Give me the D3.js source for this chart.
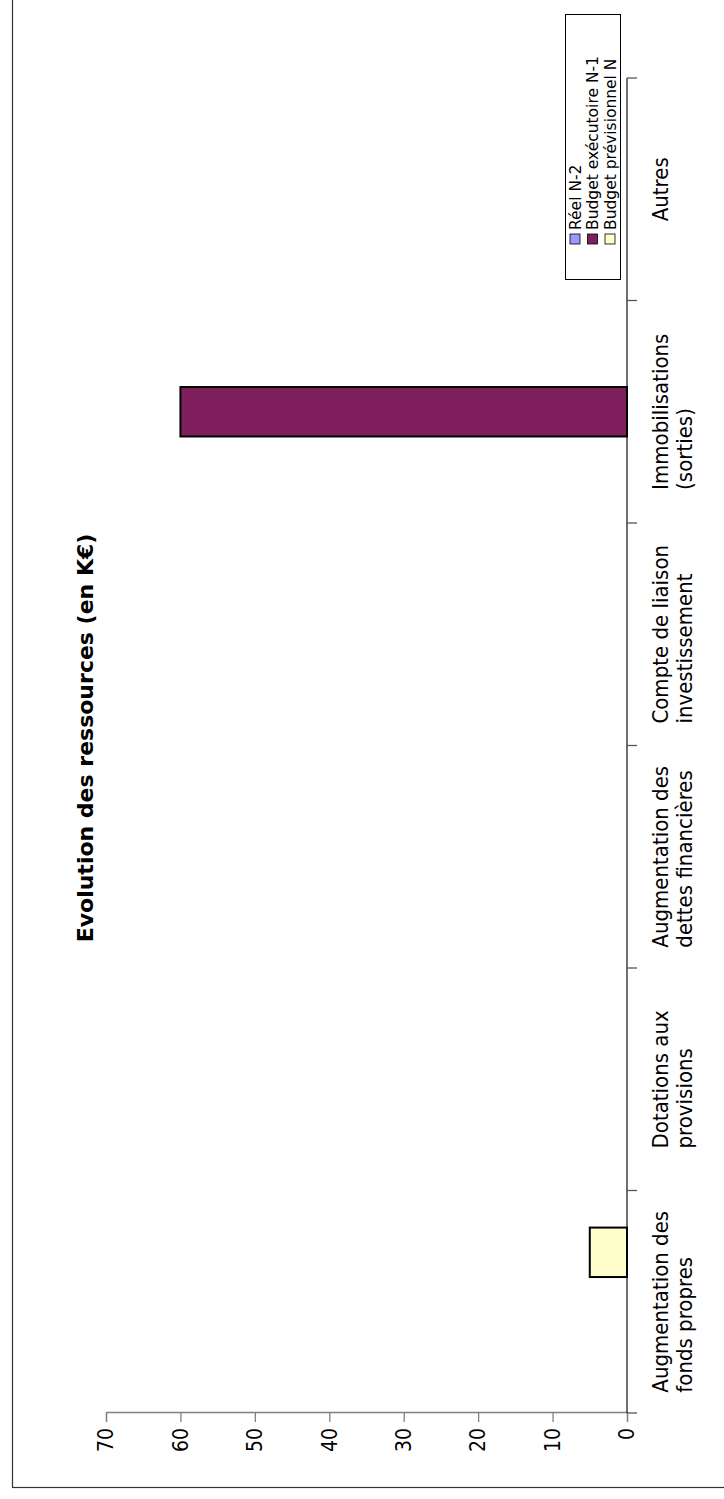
<!DOCTYPE html>
<html>
<head>
<meta charset="utf-8">
<script src="https://cdn.jsdelivr.net/npm/d3@7"></script>
<style>
  body { margin: 0; background: #fff; }
  text { font-family: "DejaVu Sans", Verdana, sans-serif; }
  .cond { font-family: "DejaVu Sans Condensed", "DejaVu Sans", sans-serif; font-stretch: condensed; }
</style>
</head>
<body>
<div id="chart"></div>
<script>
// Chart data
var categories = [
    "Augmentation des\nfonds propres",
    "Dotations aux\nprovisions",
    "Augmentation des\ndettes financières",
    "Compte de liaison\ninvestissement",
    "Immobilisations\n(sorties)",
    "Autres"
];
var seriesNames = ["Réel N-2", "Budget exécutoire N-1", "Budget prévisionnel N"];
var reelN2 = [0, 0, 0, 0, 0, 0];
var budgetExecutoireN1 = [0, 0, 0, 0, 60, 0];
var budgetPrevisionnelN = [5, 0, 0, 0, 0, 0];
var valueTicks = [0, 10, 20, 30, 40, 50, 60, 70];
var chartTitle = "Evolution des ressources (en K€)";

var seriesColors = ["#9999ff", "#7f1f5e", "#ffffcc"];

function createChart() {
    var pageW = 724, pageH = 1499;
    var seriesValues = [reelN2, budgetExecutoireN1, budgetPrevisionnelN];

    var svg = d3.select("#chart")
        .append("svg")
        .attr("width", pageW)
        .attr("height", pageH);

    // the whole chart is drawn landscape, then turned a quarter left
    var g = svg.append("g")
        .attr("transform", "translate(0," + pageH + ") rotate(-90)");

    // outer frame
    g.append("rect")
        .attr("x", 11.5).attr("y", 12.5)
        .attr("width", 1500).attr("height", 720)
        .attr("fill", "none")
        .attr("stroke", "#333")
        .attr("stroke-width", 1.2);

    var xScale = d3.scaleBand()
        .domain(categories.map(function (d, i) { return i; }))
        .range([86, 1421]);

    var yScale = d3.scaleLinear()
        .domain([0, d3.max(valueTicks)])
        .range([627, 106]);

    // value axis
    var yAxis = d3.axisLeft(yScale)
        .tickValues(valueTicks)
        .tickSize(9)
        .tickPadding(6);

    var yAxisG = g.append("g")
        .attr("transform", "translate(86,0)")
        .call(yAxis);
    yAxisG.select(".domain").attr("stroke", "#808080").attr("stroke-width", 1.3);
    yAxisG.selectAll(".tick line").attr("stroke", "#808080").attr("stroke-width", 1.3);
    yAxisG.selectAll(".tick text")
        .attr("class", "cond")
        .attr("fill", "#000")
        .style("font-size", "21px");

    // category axis: line with ticks between the bands
    var bounds = categories.map(function (d, i) { return xScale(i); });
    bounds.push(xScale.range()[1]);

    g.append("line")
        .attr("x1", 86).attr("x2", 1421)
        .attr("y1", yScale(0)).attr("y2", yScale(0))
        .attr("stroke", "#222")
        .attr("stroke-width", 1.3);

    g.selectAll(".cat-tick")
        .data(bounds)
        .enter().append("line")
        .attr("class", "cat-tick")
        .attr("x1", function (d) { return d; })
        .attr("x2", function (d) { return d; })
        .attr("y1", yScale(0))
        .attr("y2", yScale(0) + 10)
        .attr("stroke", "#555")
        .attr("stroke-width", 1.3);

    // category labels: lines left aligned, block centred on the band
    var catLabels = g.selectAll(".cat-label")
        .data(categories)
        .enter().append("text")
        .attr("class", "cat-label cond")
        .attr("text-anchor", "start")
        .style("font-size", "22px")
        .attr("fill", "#000");

    catLabels.selectAll("tspan")
        .data(function (d) { return d.split("\n"); })
        .enter().append("tspan")
        .attr("x", 0)
        .attr("y", function (d, j) { return 668 + j * 24; })
        .text(function (d) { return d; });

    catLabels.each(function (d, i) {
        var w = this.getBBox().width;
        var left = xScale(i) + xScale.bandwidth() / 2 - w / 2;
        d3.select(this).selectAll("tspan").attr("x", left);
    });

    // bars
    var barW = xScale.bandwidth() / 4.5;
    var barData = [];
    seriesValues.forEach(function (vals, s) {
        vals.forEach(function (v, i) {
            if (v > 0) barData.push({ s: s, i: i, v: v });
        });
    });

    g.selectAll(".bar")
        .data(barData)
        .enter().append("rect")
        .attr("class", "bar")
        .attr("x", function (d) { return xScale(d.i) + xScale.bandwidth() / 2 + (d.s - 1.5) * barW; })
        .attr("y", function (d) { return yScale(d.v); })
        .attr("width", barW)
        .attr("height", function (d) { return yScale(0) - yScale(d.v); })
        .attr("fill", function (d) { return seriesColors[d.s]; })
        .attr("stroke", "#000")
        .attr("stroke-width", 2);

    // title
    g.append("text")
        .attr("x", 761)
        .attr("y", 93)
        .attr("text-anchor", "middle")
        .style("font-size", "22px")
        .style("font-weight", "bold")
        .text(chartTitle);

    // legend
    var legend = g.append("g").attr("transform", "translate(1219,565)");
    legend.append("rect")
        .attr("x", 0.5).attr("y", 0.5)
        .attr("width", 265).attr("height", 55)
        .attr("fill", "#fff")
        .attr("stroke", "#000")
        .attr("stroke-width", 1);

    var items = legend.selectAll(".leg")
        .data(seriesNames)
        .enter().append("g")
        .attr("class", "leg")
        .attr("transform", function (d, i) { return "translate(0," + (10 + i * 17.5) + ")"; });

    items.append("rect")
        .attr("x", 36).attr("y", -5)
        .attr("width", 10).attr("height", 10)
        .attr("fill", function (d, i) { return seriesColors[i]; })
        .attr("stroke", "#000")
        .attr("stroke-width", 0.8);

    items.append("text")
        .attr("x", 50)
        .attr("y", 5.5)
        .style("font-size", "15.5px")
        .text(function (d) { return d; });
}

createChart();
</script>
</body>
</html>
